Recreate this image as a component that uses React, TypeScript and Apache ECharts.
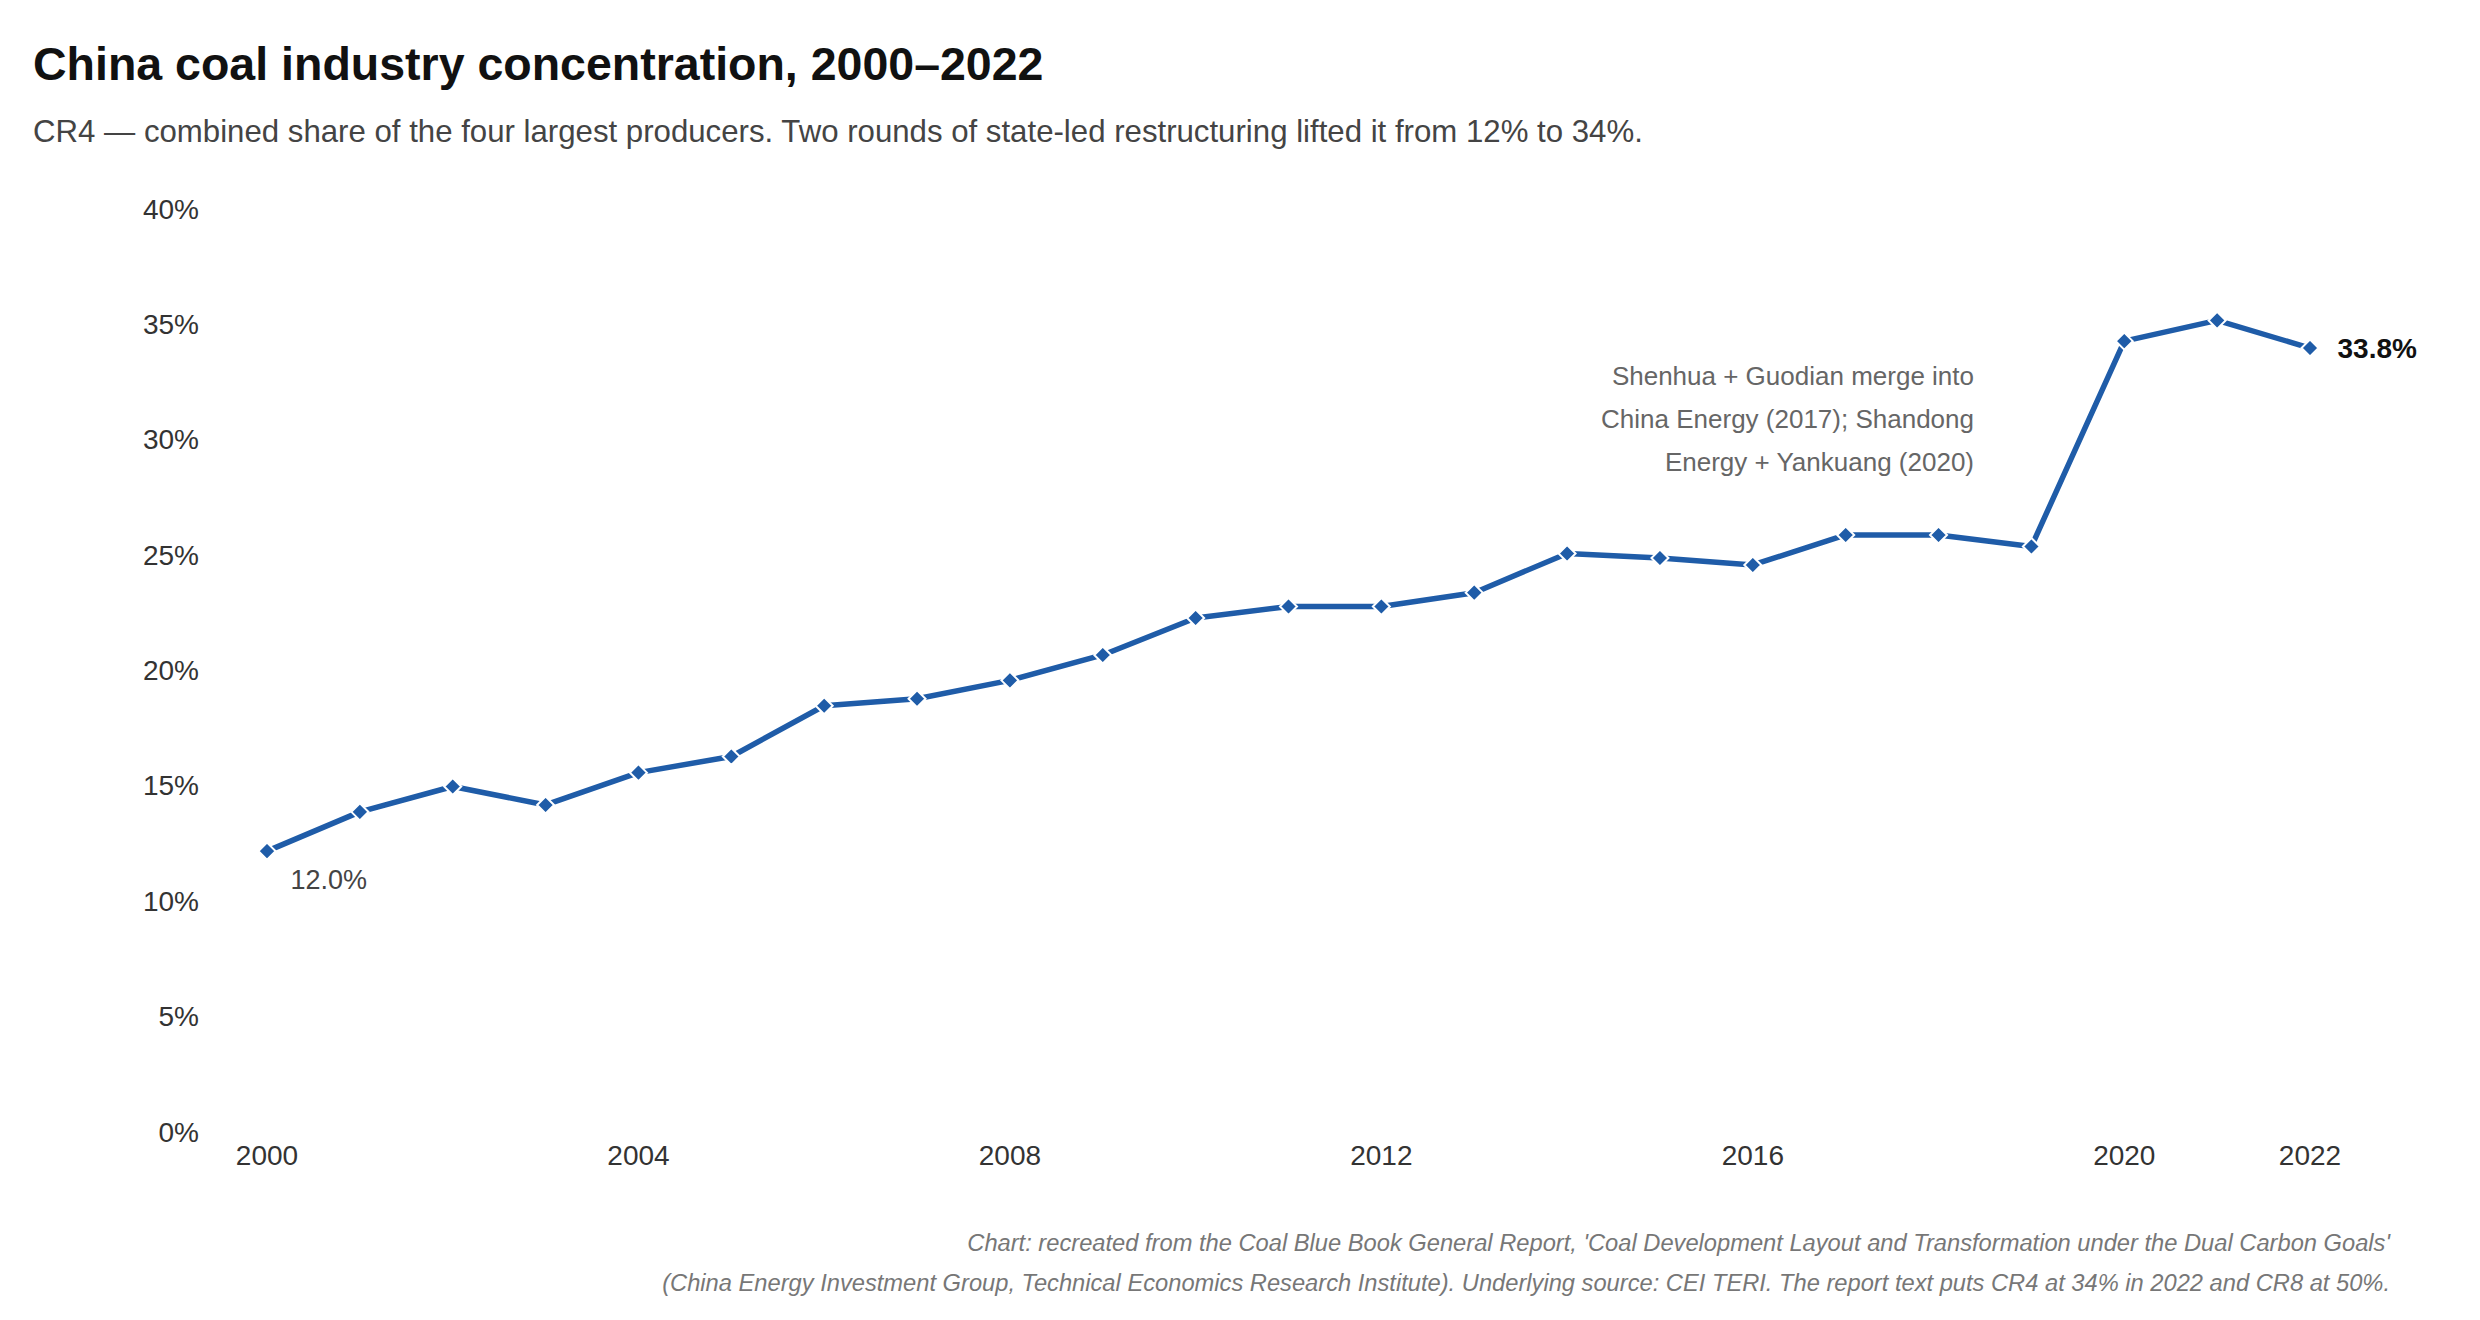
import React, { useEffect, useRef } from "react";
import * as echarts from "echarts";

const years = [
  "2000", "2001", "2002", "2003", "2004", "2005", "2006", "2007", "2008", "2009", "2010", "2011",
  "2012", "2013", "2014", "2015", "2016", "2017", "2018", "2019", "2020", "2021", "2022",
];
const cr4 = [
  12.0, 13.7, 14.8, 14.0, 15.4, 16.1, 18.3, 18.6, 19.4, 20.5, 22.1, 22.6,
  22.6, 23.2, 24.9, 24.7, 24.4, 25.7, 25.7, 25.2, 34.1, 35.0, 33.8,
];
const shownYearLabels = ["2000", "2004", "2008", "2012", "2016", "2020", "2022"];
const yMin = 0;
const yMax = 40;
const yStep = 5;

const titleText = "China coal industry concentration, 2000–2022";
const subtitleText =
  "CR4 — combined share of the four largest producers. Two rounds of state-led restructuring lifted it from 12% to 34%.";
const annotationLines = [
  "Shenhua + Guodian merge into",
  "China Energy (2017); Shandong",
  "Energy + Yankuang (2020)",
];
const footerLines = [
  "Chart: recreated from the Coal Blue Book General Report, 'Coal Development Layout and Transformation under the Dual Carbon Goals'",
  "(China Energy Investment Group, Technical Economics Research Institute). Underlying source: CEI TERI. The report text puts CR4 at 34% in 2022 and CR8 at 50%.",
];

const FONT = "'Liberation Sans', Arial, Helvetica, sans-serif";
const BLUE = "#1f5ca8";

export default function App() {
  const ref = useRef<HTMLDivElement>(null);

  useEffect(() => {
    document.body.style.margin = "0";
    if (!ref.current) return;
    const chart = echarts.init(ref.current, undefined, { renderer: "svg" });

    const last = cr4.length - 1;
    const pct = (p: any) => Number(p.value).toFixed(1) + "%";
    const data = cr4.map((v, i) => {
      if (i === 0) {
        return {
          value: v,
          label: {
            show: true,
            position: "right",
            distance: 14,
            offset: [0, 29],
            fontSize: 27,
            color: "#444",
            fontFamily: FONT,
            formatter: pct,
          },
        };
      }
      if (i === last) {
        return {
          value: v,
          label: {
            show: true,
            position: "right",
            distance: 18,
            fontSize: 28,
            fontWeight: "bold",
            color: "#111",
            fontFamily: FONT,
            formatter: pct,
          },
        };
      }
      return v;
    });

    const annotationGraphics = annotationLines.map((line, i) => ({
      type: "text",
      x: 1974,
      y: 376 + i * 43,
      style: {
        text: line,
        fontSize: 26,
        fill: "#666",
        align: "right",
        verticalAlign: "middle",
        fontFamily: FONT,
      },
    }));
    const footerGraphics = footerLines.map((line, i) => ({
      type: "text",
      x: 2390,
      y: 1243 + i * 40,
      style: {
        text: line,
        fontSize: 23.7,
        fill: "#777",
        fontStyle: "italic",
        align: "right",
        verticalAlign: "middle",
        fontFamily: FONT,
      },
    }));

    const option: any = {
      animation: false,
      backgroundColor: "#ffffff",
      textStyle: { fontFamily: FONT },
      title: [
        {
          text: titleText,
          left: 28,
          top: 35,
          textStyle: { fontSize: 46.5, fontWeight: "bold", color: "#111", fontFamily: FONT },
        },
        {
          text: subtitleText,
          left: 28,
          top: 111,
          textStyle: { fontSize: 31.2, fontWeight: "normal", color: "#444", fontFamily: FONT },
        },
      ],
      grid: { left: 267, right: 170, top: 205, bottom: 192, containLabel: false },
      xAxis: {
        type: "category",
        data: years,
        boundaryGap: false,
        axisLine: { show: false },
        axisTick: { show: false },
        splitLine: { show: false },
        axisLabel: {
          interval: (_i: number, val: string) => shownYearLabels.indexOf(val) >= 0,
          fontSize: 28,
          color: "#333",
          margin: 13,
          fontFamily: FONT,
        },
      },
      yAxis: {
        type: "value",
        min: yMin,
        max: yMax,
        interval: yStep,
        axisLine: { show: false },
        axisTick: { show: false },
        splitLine: { show: false },
        axisLabel: {
          formatter: (v: number) => "{a|" + v + "%}",
          margin: 68,
          rich: {
            a: {
              fontSize: 28,
              color: "#333",
              fontFamily: FONT,
              padding: [8, 0, 0, 0],
            },
          },
        },
      },
      series: [
        {
          type: "line",
          data,
          symbol: "diamond",
          symbolSize: 17,
          showAllSymbol: true,
          lineStyle: { color: BLUE, width: 5.5 },
          itemStyle: { color: BLUE, borderColor: "#ffffff", borderWidth: 2 },
          z: 3,
        },
      ],
      graphic: [...annotationGraphics, ...footerGraphics],
    };

    chart.setOption(option);
    return () => chart.dispose();
  }, []);

  return <div ref={ref} style={{ width: 2480, height: 1320 }} />;
}
